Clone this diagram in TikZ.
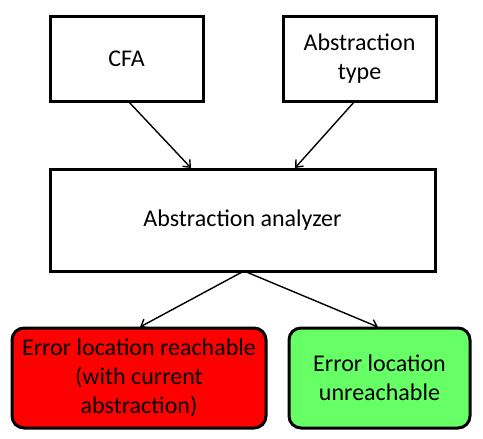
\documentclass[tikz,border=0pt]{standalone}
\usepackage{fontspec}
\setmainfont{Carlito}
\usetikzlibrary{arrows.meta}
\definecolor{errred}{RGB}{255,0,0}
\definecolor{okgreen}{RGB}{102,255,102}
\begin{document}
\begin{tikzpicture}[x=1pt,y=-1pt,
  box/.style={draw=black,line width=3pt,inner sep=0pt,align=center,
    font=\fontsize{24}{29}\selectfont},
  rbox/.style={box,rounded corners=12pt},
  conn/.style={line width=1.4pt,-{Straight Barb[length=6pt,width=10pt]}}]
\useasboundingbox (0,0) rectangle (483,439);
\fill[white] (0,0) rectangle (483,439);
\node[box,minimum width=153pt,minimum height=85pt] (cfa) at (126.5,58.5) {CFA};
\node[box,minimum width=153pt,minimum height=85pt] (abs) at (359.5,58.5) {Abstraction\\type};
\node[box,minimum width=385pt,minimum height=102pt] (ana) at (242.5,220) {Abstraction analyzer};
\node[rbox,fill=errred,minimum width=254pt,minimum height=100pt] (err) at (139,378) {Error location reachable\\(with current\\abstraction)};
\node[rbox,fill=okgreen,minimum width=181pt,minimum height=100pt] (ok) at (379.5,378) {Error location\\unreachable};
\coordinate (c1) at (128,101);
\coordinate (c2) at (355,101);
\coordinate (c3) at (244,271);
\draw[conn] (c1) -- (191,168);
\draw[conn] (c2) -- (295,168);
\draw[conn] (c3) -- (140,327);
\draw[conn] (c3) -- (378,327);
\end{tikzpicture}
\end{document}
